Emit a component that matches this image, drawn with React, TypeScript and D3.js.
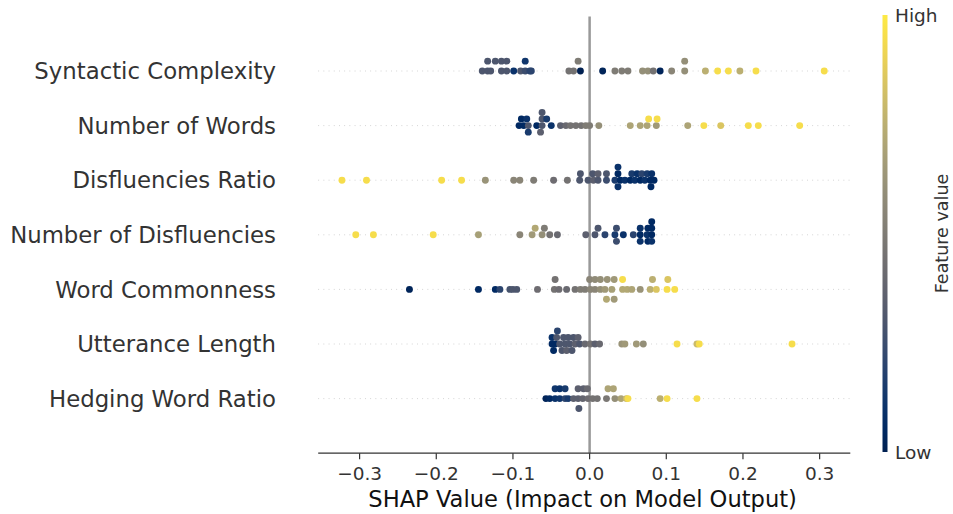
import React from 'react';
import * as d3 from 'd3';

// feature names, top to bottom
const features = [
  'Syntactic Complexity',
  'Number of Words',
  'Disfluencies Ratio',
  'Number of Disfluencies',
  'Word Commonness',
  'Utterance Length',
  'Hedging Word Ratio',
];

// [shap value, feature value (0 low .. 1 high), swarm layer]
const syntacticComplexity = [
  [-0.140, 0.3, 0], [-0.133, 0.3, 0], [-0.133, 0.3, 1], [-0.129, 0.3, 0], [-0.123, 0.3, 1],
  [-0.115, 0.3, 0], [-0.115, 0.3, 1], [-0.108, 0.3, 0], [-0.108, 0.3, 1], [-0.099, 0.1, 0],
  [-0.090, 0.3, 0], [-0.084, 0.25, 0], [-0.084, 0.12, 1], [-0.078, 0.2, 0], [-0.076, 0.2, 0],
  [-0.027, 0.45, 0], [-0.021, 0.45, 0], [-0.015, 0.5, 1], [-0.012, 0.0, 0], [0.017, 0.02, 0],
  [0.033, 0.5, 0], [0.042, 0.5, 0], [0.050, 0.5, 0], [0.069, 0.6, 0], [0.076, 0.6, 0],
  [0.083, 0.45, 0], [0.092, 0.02, 0], [0.107, 0.55, 0], [0.124, 0.6, 0], [0.124, 0.6, 1],
  [0.151, 0.75, 0], [0.167, 0.95, 0], [0.181, 0.95, 0], [0.196, 0.75, 0], [0.217, 0.95, 0],
  [0.306, 0.95, 0],
];

const numberOfWords = [
  [-0.092, 0.05, 0], [-0.089, 0.05, 1], [-0.086, 0.05, 0], [-0.082, 0.1, 1], [-0.080, 0.3, 0],
  [-0.080, 0.15, -1], [-0.069, 0.05, 0], [-0.064, 0.35, -1], [-0.062, 0.3, 0], [-0.062, 0.3, 1],
  [-0.062, 0.3, 2], [-0.056, 0.15, 1], [-0.050, 0.1, 0], [-0.038, 0.35, 0], [-0.031, 0.4, 0],
  [-0.025, 0.45, 0], [-0.018, 0.45, 0], [-0.011, 0.45, 0], [-0.005, 0.5, 0], [0.000, 0.5, 0],
  [0.012, 0.6, 0], [0.053, 0.7, 0], [0.066, 0.7, 0], [0.075, 0.7, 0], [0.077, 0.95, 1],
  [0.087, 0.65, 0], [0.088, 0.95, 1], [0.128, 0.7, 0], [0.149, 0.95, 0], [0.171, 0.85, 0],
  [0.207, 0.95, 0], [0.220, 0.95, 0], [0.274, 0.95, 0],
];

const disfluenciesRatio = [
  [-0.323, 0.95, 0], [-0.291, 0.95, 0], [-0.193, 0.95, 0], [-0.167, 0.95, 0], [-0.136, 0.62, 0],
  [-0.099, 0.55, 0], [-0.091, 0.55, 0], [-0.073, 0.5, 0], [-0.047, 0.42, 0], [-0.029, 0.45, 0],
  [-0.013, 0.3, 0], [-0.012, 0.3, 1], [-0.002, 0.3, 0], [0.005, 0.35, 0], [0.004, 0.3, 1],
  [0.011, 0.3, 0], [0.011, 0.35, 1], [0.022, 0.25, 0], [0.022, 0.3, 1], [0.033, 0.15, 0],
  [0.037, 0.05, 1], [0.037, 0.1, 2], [0.037, 0.1, -1], [0.040, 0.05, 0], [0.046, 0.1, 0],
  [0.053, 0.05, 0], [0.055, 0.15, 1], [0.059, 0.1, 0], [0.062, 0.1, 1], [0.066, 0.05, 0],
  [0.068, 0.2, 1], [0.072, 0.1, 0], [0.075, 0.15, 1], [0.079, 0.05, 0], [0.080, 0.05, -1],
  [0.081, 0.1, 1], [0.084, 0.05, 0],
];

const numberOfDisfluencies = [
  [-0.305, 0.95, 0], [-0.282, 0.95, 0], [-0.204, 0.95, 0], [-0.145, 0.68, 0], [-0.091, 0.55, 0],
  [-0.075, 0.65, 0], [-0.071, 0.72, 1], [-0.062, 0.6, 0], [-0.059, 0.5, 1], [-0.052, 0.45, 0],
  [-0.042, 0.4, 0], [-0.005, 0.35, 0], [0.007, 0.3, 0], [0.011, 0.3, 1], [0.020, 0.2, 0],
  [0.033, 0.15, 0], [0.035, 0.25, 1], [0.035, 0.25, -1], [0.044, 0.1, 0], [0.057, 0.2, 0],
  [0.066, 0.05, 0], [0.066, 0.1, 1], [0.066, 0.1, -1], [0.075, 0.1, 0], [0.076, 0.05, 1],
  [0.076, 0.05, -1], [0.081, 0.05, 0], [0.081, 0.05, 2], [0.081, 0.05, 1], [0.081, 0.1, -1],
];

const wordCommonness = [
  [-0.235, 0.02, 0], [-0.145, 0.05, 0], [-0.123, 0.05, 0], [-0.117, 0.2, 0], [-0.104, 0.28, 0],
  [-0.100, 0.3, 0], [-0.095, 0.3, 0], [-0.068, 0.42, 0], [-0.046, 0.45, 0], [-0.045, 0.45, 1],
  [-0.040, 0.42, 0], [-0.030, 0.4, 0], [-0.019, 0.45, 0], [-0.012, 0.5, 0], [-0.006, 0.5, 0],
  [0.000, 0.55, 1], [0.001, 0.55, 0], [0.007, 0.55, 0], [0.007, 0.58, 1], [0.014, 0.6, 0],
  [0.014, 0.6, 1], [0.020, 0.65, 0], [0.023, 0.62, 1], [0.022, 0.72, -1], [0.029, 0.68, 0],
  [0.032, 0.65, 1], [0.032, 0.65, -1], [0.043, 0.72, 0], [0.043, 0.95, 1], [0.049, 0.72, 0],
  [0.055, 0.7, 0], [0.066, 0.62, 0], [0.079, 0.75, 0], [0.082, 0.75, 1], [0.087, 0.85, 0],
  [0.101, 0.95, 0], [0.102, 0.85, 1], [0.111, 0.95, 0],
];

const utteranceLength = [
  [-0.049, 0.05, 0], [-0.049, 0.1, 1], [-0.047, 0.05, -1], [-0.045, 0.05, 0], [-0.043, 0.3, 1],
  [-0.042, 0.2, 2], [-0.039, 0.3, 0], [-0.036, 0.3, -1], [-0.034, 0.3, 1], [-0.032, 0.3, 0],
  [-0.030, 0.35, -1], [-0.028, 0.3, 1], [-0.026, 0.3, 0], [-0.023, 0.3, -1], [-0.021, 0.3, 1],
  [-0.019, 0.35, 0], [-0.015, 0.35, 1], [-0.013, 0.3, 0], [-0.006, 0.4, 0], [0.001, 0.45, 0],
  [0.007, 0.35, 0], [0.013, 0.4, 0], [0.042, 0.62, 0], [0.046, 0.65, 0], [0.061, 0.65, 0],
  [0.070, 0.6, 0], [0.114, 0.95, 0], [0.140, 0.8, 0], [0.143, 0.95, 0], [0.264, 0.95, 0],
];

const hedgingWordRatio = [
  [-0.057, 0.02, 0], [-0.052, 0.05, 0], [-0.045, 0.1, 0], [-0.045, 0.12, 1], [-0.039, 0.12, 0],
  [-0.039, 0.1, 1], [-0.032, 0.2, 0], [-0.032, 0.15, 1], [-0.028, 0.15, 0], [-0.021, 0.35, 0],
  [-0.015, 0.35, 0], [-0.015, 0.35, 1], [-0.014, 0.3, -1], [-0.009, 0.38, 0], [-0.008, 0.35, 1],
  [-0.003, 0.4, 1], [-0.002, 0.42, 0], [0.004, 0.45, 0], [0.010, 0.45, 0], [0.022, 0.48, 0],
  [0.024, 0.7, 1], [0.031, 0.7, 1], [0.033, 0.6, 0], [0.041, 0.7, 0], [0.048, 0.8, 0],
  [0.050, 0.95, 0], [0.092, 0.75, 0], [0.101, 0.95, 0], [0.140, 0.95, 0],
];

const rows = [
  syntacticComplexity,
  numberOfWords,
  disfluenciesRatio,
  numberOfDisfluencies,
  wordCommonness,
  utteranceLength,
  hedgingWordRatio,
];

const xTicks = [-0.3, -0.2, -0.1, 0.0, 0.1, 0.2, 0.3];

const W = 953, H = 514;
const font = '"DejaVu Sans", Verdana, sans-serif';

export default function App() {
  const x = d3.scaleLinear().domain([-0.354, 0.340]).range([318.2, 850.3]);
  const y = d3.scaleLinear().domain([-1, features.length]).range([453.2, 16.4]);
  const color = d3.interpolateCividis;
  const fmt = (v: number) => d3.format('.1f')(v).replace('-', '\u2212');
  const rowPos = (i: number) => features.length - 1 - i;

  const barTop = 15, barBottom = 452, barX = 882.5;

  return (
    <svg width={W} height={H} style={{ position: 'absolute', left: 0, top: 0, background: '#fff' }}
      fontFamily={font}>
      <defs>
        <linearGradient id="cbar" x1="0" y1="1" x2="0" y2="0">
          {d3.range(0, 1.0001, 0.05).map(t => (
            <stop key={t} offset={t} stopColor={color(t)} />
          ))}
        </linearGradient>
      </defs>

      {/* dotted row guides */}
      {features.map((f, i) => (
        <line key={f} x1={x.range()[0]} x2={x.range()[1]} y1={y(rowPos(i))} y2={y(rowPos(i))}
          stroke="#cccccc" strokeWidth={0.9} strokeDasharray="0.9,4.3" />
      ))}

      {/* zero line */}
      <line x1={x(0)} x2={x(0)} y1={y(features.length)} y2={y(-1)} stroke="#999999" strokeWidth={2.5} />

      {/* points */}
      {rows.map((pts, i) => {
        const maxUp = d3.max(pts, p => p[2]) as number;
        const step = 0.9 * 0.4 / (maxUp + 1);
        return (
          <g key={i}>
            {pts.map((p, j) => (
              <circle key={j} cx={x(p[0])} cy={y(rowPos(i) + p[2] * step)} r={3.45}
                fill={color(p[1])} />
            ))}
          </g>
        );
      })}

      {/* feature labels */}
      {features.map((f, i) => (
        <text key={f} x={276} y={y(rowPos(i))} dy="0.36em" textAnchor="end" fontSize={22.8}
          fill="#333333">{f}</text>
      ))}

      {/* x axis */}
      <line x1={x.range()[0]} x2={x.range()[1]} y1={y(-1)} y2={y(-1)} stroke="#333333" strokeWidth={1.2} />
      {xTicks.map(t => (
        <g key={t}>
          <line x1={x(t)} x2={x(t)} y1={y(-1)} y2={y(-1) + 6} stroke="#333333" strokeWidth={1.2} />
          <text x={x(t)} y={480} textAnchor="middle" fontSize={18.5} fill="#333333">{fmt(t)}</text>
        </g>
      ))}
      <text x={x(0) - 7} y={507} textAnchor="middle" fontSize={22.6} fill="#111">
        SHAP Value (Impact on Model Output)
      </text>

      {/* colour bar */}
      <rect x={barX} y={barTop} width={5} height={barBottom - barTop} fill="url(#cbar)" />
      <text x={895} y={barTop} dy="0.36em" fontSize={18.5} fill="#333333">High</text>
      <text x={895} y={barBottom} dy="0.36em" fontSize={18.5} fill="#333333">Low</text>
      <text transform={`translate(942,${(barTop + barBottom) / 2}) rotate(-90)`} dy="0.36em"
        textAnchor="middle" fontSize={17.5} fill="#333333">Feature value</text>
    </svg>
  );
}
